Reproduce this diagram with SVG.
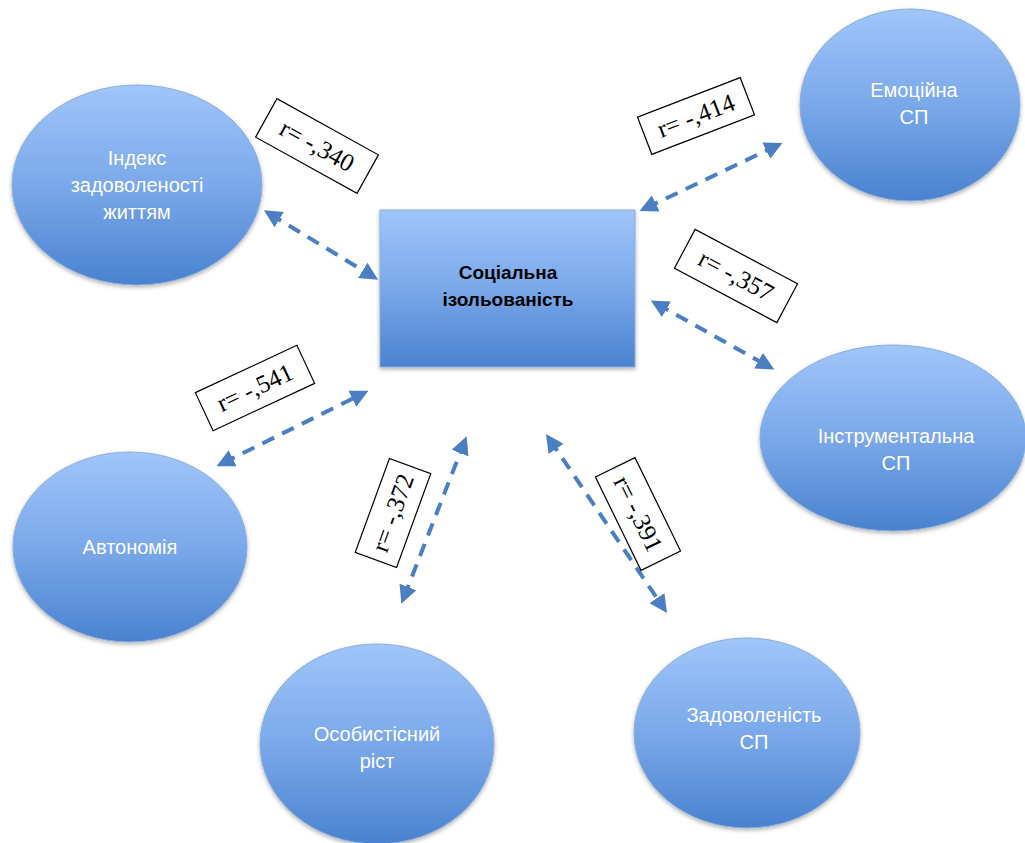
<svg xmlns="http://www.w3.org/2000/svg" width="1025" height="843" viewBox="0 0 1025 843">
<defs>
<linearGradient id="g" x1="0" y1="0" x2="0" y2="1">
<stop offset="0" stop-color="#a0c6fa"/>
<stop offset="0.5" stop-color="#7aa8ea"/>
<stop offset="1" stop-color="#4a82cf"/>
</linearGradient>
<marker id="ah" viewBox="0 0 10 10" refX="6" refY="5" markerWidth="4.5" markerHeight="4.5" orient="auto-start-reverse">
<path d="M0,0 L10,5 L0,10 z" fill="#4a7fc4"/>
</marker>
<filter id="sh" x="-10%" y="-10%" width="120%" height="125%">
<feDropShadow dx="0" dy="2" stdDeviation="2" flood-color="#000" flood-opacity="0.3"/>
</filter>
</defs>
<style>
.node{fill:url(#g);stroke:#8aaed8;stroke-width:1;filter:url(#sh)}
.nt{font-family:"Liberation Sans",Arial,sans-serif;font-size:20px;fill:#ffffff;text-anchor:middle}
.ct{font-family:"Liberation Sans",Arial,sans-serif;font-size:19px;font-weight:bold;fill:#000;text-anchor:middle}
.c{fill:none;stroke:#4a7fc4;stroke-width:4;stroke-dasharray:13 9;marker-start:url(#ah);marker-end:url(#ah)}
.lb{fill:#fff;stroke:#000;stroke-width:1.2}
.lt{font-family:"Liberation Serif","Times New Roman",serif;font-size:25px;fill:#000;text-anchor:middle}
</style>
<rect width="1025" height="843" fill="#fff"/>
<g id="connectors">
<line class="c" x1="270" y1="214" x2="372" y2="276"/>
<line class="c" x1="646" y1="208" x2="776" y2="146"/>
<line class="c" x1="657" y1="304" x2="768" y2="366"/>
<line class="c" x1="223" y1="463" x2="362" y2="394"/>
<line class="c" x1="404" y1="597" x2="464" y2="443"/>
<line class="c" x1="550" y1="440" x2="663" y2="607"/>
</g>
<g id="labels">
<g transform="translate(317,146) rotate(29)"><rect class="lb" x="-58" y="-22" width="116" height="44"/><text class="lt" x="0" y="8">r= -,340</text></g>
<g transform="translate(696,116) rotate(-21)"><rect class="lb" x="-55" y="-20" width="110" height="40"/><text class="lt" x="0" y="8">r= -,414</text></g>
<g transform="translate(736,276) rotate(28)"><rect class="lb" x="-58" y="-22" width="116" height="44"/><text class="lt" x="0" y="8">r= -,357</text></g>
<g transform="translate(255,388) rotate(-25)"><rect class="lb" x="-56" y="-21" width="112" height="42"/><text class="lt" x="0" y="8">r= -,541</text></g>
<g transform="translate(393,513) rotate(-70)"><rect class="lb" x="-50" y="-22" width="100" height="44"/><text class="lt" x="0" y="8">r= -,372</text></g>
<g transform="translate(638,514) rotate(64)"><rect class="lb" x="-52" y="-22" width="104" height="44"/><text class="lt" x="0" y="8">r= -,391</text></g>
</g>
<g id="n-center">
<rect class="node" x="380" y="210" width="255" height="157" stroke="#7fa6d8"/>
<text class="ct" x="508" y="279">Соціальна</text>
<text class="ct" x="508" y="306">ізольованість</text>
</g>
<g id="n-index">
<ellipse class="node" cx="137" cy="185" rx="125" ry="100"/>
<text class="nt" x="137" y="165">Індекс</text>
<text class="nt" x="137" y="192">задоволеності</text>
<text class="nt" x="137" y="219">життям</text>
</g>
<g id="n-emotional">
<ellipse class="node" cx="910" cy="105" rx="110" ry="96"/>
<text class="nt" x="914" y="97">Емоційна</text>
<text class="nt" x="914" y="124">СП</text>
</g>
<g id="n-instrumental">
<ellipse class="node" cx="893" cy="438" rx="133" ry="93"/>
<text class="nt" x="896" y="443">Інструментальна</text>
<text class="nt" x="896" y="470">СП</text>
</g>
<g id="n-autonomy">
<ellipse class="node" cx="130" cy="547" rx="117" ry="95"/>
<text class="nt" x="130" y="554">Автономія</text>
</g>
<g id="n-growth">
<ellipse class="node" cx="377" cy="744" rx="117" ry="100"/>
<text class="nt" x="377" y="741">Особистісний</text>
<text class="nt" x="377" y="768">ріст</text>
</g>
<g id="n-satisfaction">
<ellipse class="node" cx="747" cy="733" rx="113" ry="95"/>
<text class="nt" x="754" y="722">Задоволеність</text>
<text class="nt" x="754" y="749">СП</text>
</g>
</svg>
